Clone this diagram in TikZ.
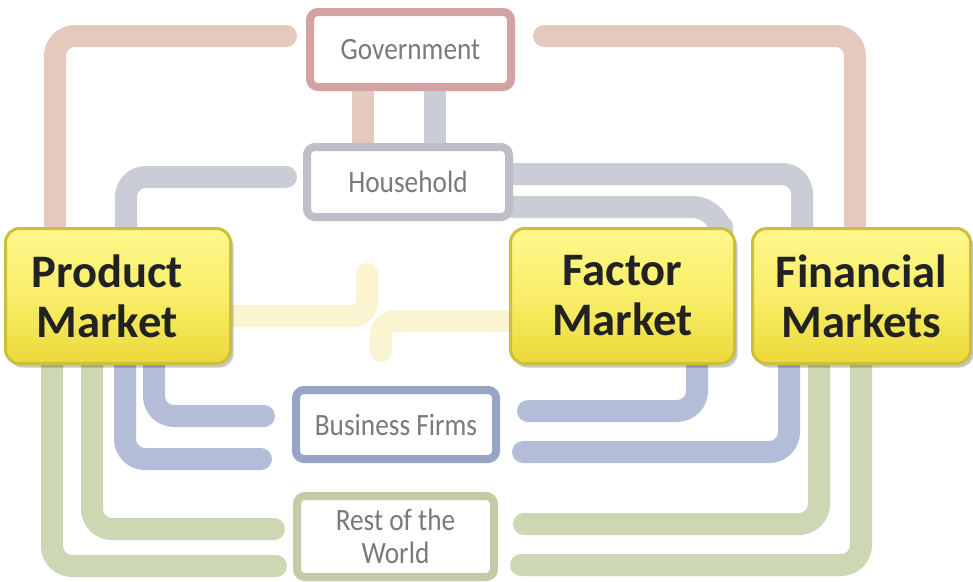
\documentclass[tikz,border=0pt]{standalone}
\usepackage{fontspec}
\setmainfont{Carlito}
\newfontfamily\lblfont[FakeStretch=0.88]{Carlito}
\usetikzlibrary{shadows}

\definecolor{govedge}{HTML}{D3A3A3}
\definecolor{hhedge}{HTML}{BEBEC6}
\definecolor{bfedge}{HTML}{97A4C6}
\definecolor{rwedge}{HTML}{C2CBA6}
\definecolor{govline}{HTML}{E6C9BE}
\definecolor{hhline}{HTML}{CACDD5}
\definecolor{yline}{HTML}{FAF5D0}
\definecolor{bline}{HTML}{B3BDD8}
\definecolor{gline}{HTML}{CDD7B4}
\definecolor{mkborder}{HTML}{CDBF3A}
\definecolor{mktop}{HTML}{FFF78C}
\definecolor{mkmid}{HTML}{F8EE68}
\definecolor{mkbot}{HTML}{ECD93A}
\definecolor{lbltext}{HTML}{7A7A7A}
\definecolor{mktext}{HTML}{222222}

\begin{document}
\begin{tikzpicture}[x=1pt,y=-1pt,
  pipe/.style={line width=22pt, line cap=round, line join=round, rounded corners=20pt,
    preaction={draw=black!9, transform canvas={shift={(1.5pt,-1.5pt)}}}},
  market/.style={draw=mkborder, line width=3pt, rounded corners=14pt,
    top color=mktop, bottom color=mkbot, middle color=mkmid,
    drop shadow={shadow xshift=3pt, shadow yshift=-4pt, fill=black, opacity=0.22},
    inner sep=0pt},
  mklabel/.style={align=center, text=mktext, inner sep=0pt,
    font=\fontsize{46.6}{50}\selectfont\bfseries},
  lblbox/.style={fill=white, line width=8pt, rounded corners=8pt,
    align=center, text=lbltext, inner sep=0pt,
    font=\lblfont\fontsize{31}{33}\selectfont}]

% canvas
\fill[white] (0,0) rectangle (973,581);
\useasboundingbox (0,0) rectangle (973,581);

% boxes (placed first so the pipes can refer to them; drawn on top below)
\path (118,296) node[minimum width=228pt, minimum height=138pt] (pm) {};
\path (622.5,296) node[minimum width=227pt, minimum height=138pt] (fa) {};
\path (861.5,296) node[minimum width=221pt, minimum height=138pt] (fm) {};
\path (410.5,49.5) node[minimum width=209pt, minimum height=83pt] (gov) {};
\path (408,182) node[minimum width=210pt, minimum height=78pt] (hh) {};
\path (396,424.5) node[minimum width=208pt, minimum height=77pt] (bf) {};
\path (395.5,536.5) node[minimum width=205pt, minimum height=89pt] (rw) {};

% free ends of the pipes
\coordinate (gl) at (286,36);
\coordinate (gr) at (544,36);
\coordinate (hl) at (286,177);
\coordinate (y1) at (367,274);
\coordinate (y2) at (381,351);
\coordinate (b1) at (264,416);
\coordinate (b2) at (261,459);
\coordinate (b3) at (528,411);
\coordinate (b4) at (523,452);
\coordinate (g1) at (276,566);
\coordinate (g2) at (274,529);
\coordinate (g3) at (524,524);
\coordinate (g4) at (521,565);
\coordinate (gv1) at ([xshift=-48pt]gov.south);
\coordinate (gv2) at ([xshift=24pt]gov.south);

% government flows
\draw[pipe, govline] (gl) -| ([xshift=-63pt]pm.north);
\draw[pipe, govline] (gr) -| ([xshift=-6.5pt]fm.north);
\draw[pipe, govline] (gv1) -- (gv1 |- hh.north);
\draw[pipe, hhline] (gv2) -- (gv2 |- hh.north);

% household flows
\draw[pipe, hhline] (hl) -| ([xshift=8pt]pm.north);
\draw[pipe, hhline] ([yshift=8pt]hh.east) -| ([xshift=-59.5pt]fm.north);
\draw[pipe, hhline, rounded corners=30pt] ([yshift=-25pt]hh.east) -| ([xshift=99.5pt]fa.north);

% product market to factor market
\draw[pipe, yline, rounded corners=14pt] ([yshift=-20pt]pm.east) -| (y1);
\draw[pipe, yline, rounded corners=14pt] ([yshift=-25pt]fa.west) -| (y2);

% business firm flows
\draw[pipe, bline] ([xshift=36pt]pm.south) |- (b1);
\draw[pipe, bline] ([xshift=7pt]pm.south) |- (b2);
\draw[pipe, bline] (b3) -| ([xshift=74.5pt]fa.south);
\draw[pipe, bline] (b4) -| ([xshift=-72.5pt]fm.south);

% rest of the world flows
\draw[pipe, gline] ([xshift=-66pt]pm.south) |- (g1);
\draw[pipe, gline] ([xshift=-26pt]pm.south) |- (g2);
\draw[pipe, gline] (g3) -| ([xshift=-42.5pt]fm.south);
\draw[pipe, gline] (g4) -| ([xshift=-0.5pt]fm.south);

% market boxes
\node[market, minimum width=225pt, minimum height=135pt] (pmbox) at (pm) {};
\node[market, minimum width=224pt, minimum height=135pt] (fabox) at (fa) {};
\node[market, minimum width=218pt, minimum height=135pt] (fmbox) at (fm) {};
\node[mklabel] (pmtext) at ([xshift=-11pt]pm.center) {Product\\Market};
\node[mklabel] (fatext) at (fa.center) {Factor\\Market};
\node[mklabel] (fmtext) at (fm.center) {Financial\\Markets};

% sector boxes
\node[lblbox, draw=govedge, minimum width=201pt, minimum height=75pt] (govbox) at (gov) {Government};
\node[lblbox, draw=hhedge, minimum width=202pt, minimum height=70pt] (hhbox) at (hh) {Household};
\node[lblbox, draw=bfedge, minimum width=200pt, minimum height=69pt] (bfbox) at (bf) {Business Firms};
\node[lblbox, draw=rwedge, minimum width=197pt, minimum height=81pt] (rwbox) at (rw) {Rest of the\\World};

\end{tikzpicture}
\end{document}
